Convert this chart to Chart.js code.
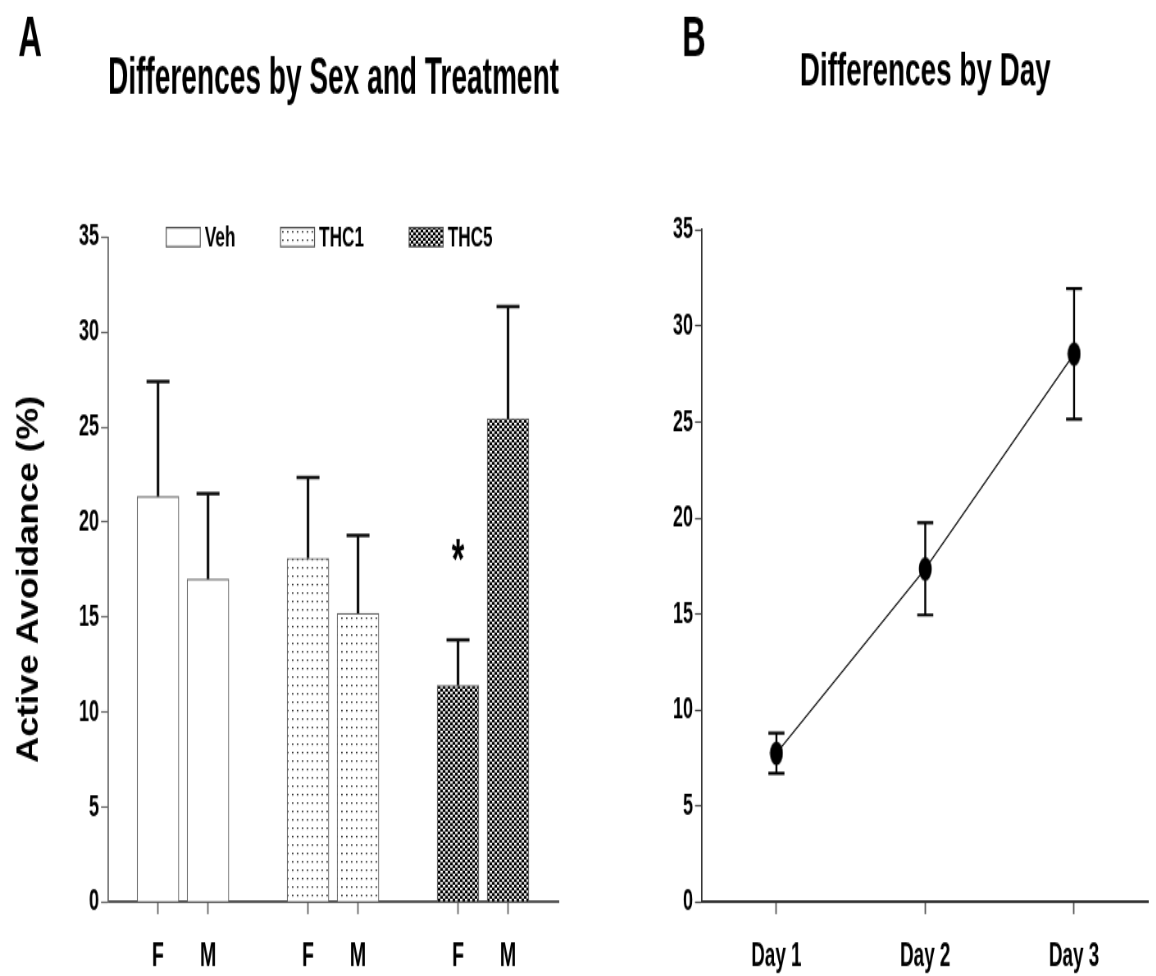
<!DOCTYPE html>
<html>
<head>
<meta charset="utf-8">
<script src="https://cdn.jsdelivr.net/npm/chart.js@4.4.1/dist/chart.umd.min.js"></script>
<style>
  html, body { margin: 0; padding: 0; background: #fff; overflow: hidden; }
  #wrap { position: relative; width: 1156px; height: 976px; }
  /* la figura original esta estirada en vertical y comprimida en horizontal */
  .panel { position: absolute; top: 0; width: 705px; height: 697px; transform: scale(0.82, 1.4); transform-origin: 0 0; }
  #panelA { left: 0; }
  #panelB { left: 578px; }
</style>
</head>
<body>
<div id="wrap">
  <div class="panel" id="panelA"><canvas id="barChart"></canvas></div>
  <div class="panel" id="panelB"><canvas id="lineChart"></canvas></div>
</div>
<script>
// datos panel A
const treatments = ['Veh', 'THC1', 'THC5'];
const sexLabels = ['F', 'M'];
const vehMeans = [21.35, 17.0];
const vehSem = [6.05, 4.5];
const thc1Means = [18.1, 15.2];
const thc1Sem = [4.25, 4.1];
const thc5Means = [11.4, 25.45];
const thc5Sem = [2.4, 5.9];
const starMarks = [['', ''], ['', ''], ['*', '']];

// datos panel B
const days = ['Day 1', 'Day 2', 'Day 3'];
const dayMeans = [7.75, 17.35, 28.55];
const daySem = [1.05, 2.4, 3.4];

const groupMeans = [vehMeans, thc1Means, thc5Means];
const groupSem = [vehSem, thc1Sem, thc5Sem];

const SANS = "'Liberation Sans', Arial, sans-serif";

Chart.defaults.color = '#000';
Chart.defaults.animation = false;

// patrones de relleno
const barCtx = document.getElementById('barChart').getContext('2d');

function dotPattern() {
    const c = document.createElement('canvas');
    c.width = 6; c.height = 6;
    const g = c.getContext('2d');
    g.fillStyle = '#fff';
    g.fillRect(0, 0, 6, 6);
    g.fillStyle = '#333';
    g.fillRect(2, 3, 1.8, 1.2);
    return barCtx.createPattern(c, 'repeat');
}

function checkPattern() {
    const c = document.createElement('canvas');
    c.width = 6; c.height = 4;
    const g = c.getContext('2d');
    g.fillStyle = '#000';
    g.fillRect(0, 0, 6, 4);
    g.fillStyle = '#fff';
    g.fillRect(0, 0, 3, 1.7);
    g.fillRect(3, 2, 3, 1.7);
    return barCtx.createPattern(c, 'repeat');
}

const fills = ['#ffffff', dotPattern(), checkPattern()];

// posiciones de las barras: F y M de cada tratamiento, con un hueco entre grupos
const tickPositions = [];
treatments.forEach((t, g) => sexLabels.forEach((s, i) => tickPositions.push(g * 3 + i + 1)));

const barErrors = {
    id: 'barErrors',
    afterDatasetsDraw(chart) {
        const ctx = chart.ctx;
        const y = chart.scales.y;
        ctx.save();
        ctx.strokeStyle = '#111';
        chart.data.datasets.forEach((ds, g) => {
            chart.getDatasetMeta(g).data.forEach((bar, s) => {
                const top = y.getPixelForValue(groupMeans[g][s] + groupSem[g][s]);
                ctx.lineWidth = 3.2;
                ctx.beginPath();
                ctx.moveTo(bar.x, bar.y);
                ctx.lineTo(bar.x, top);
                ctx.stroke();
                ctx.lineWidth = 2.5;
                ctx.beginPath();
                ctx.moveTo(bar.x - 14, top);
                ctx.lineTo(bar.x + 14, top);
                ctx.stroke();
                const mark = starMarks[g][s];
                if (mark) {
                    ctx.fillStyle = '#000';
                    ctx.font = `bold 40px ${SANS}`;
                    ctx.textAlign = 'center';
                    ctx.textBaseline = 'middle';
                    ctx.fillText(mark, bar.x, top - 55);
                }
            });
        });
        ctx.restore();
    }
};

const legendA = {
    id: 'legendA',
    afterDraw(chart) {
        const ctx = chart.ctx;
        const area = chart.chartArea;
        let x = area.left + 71;
        const yc = area.top;
        ctx.save();
        ctx.font = `bold 21px ${SANS}`;
        ctx.textBaseline = 'middle';
        ctx.textAlign = 'left';
        treatments.forEach((name, g) => {
            ctx.fillStyle = fills[g];
            ctx.fillRect(x, yc - 6.8, 41.5, 13.6);
            ctx.strokeStyle = '#555';
            ctx.lineWidth = 1.2;
            ctx.strokeRect(x, yc - 6.8, 41.5, 13.6);
            ctx.fillStyle = '#000';
            ctx.fillText(name, x + 47, yc + 1);
            x += 47 + ctx.measureText(name).width + 55;
        });
        ctx.restore();
    }
};

// titulo del eje Y dibujado a mano para darle el grosor del original
const yTitle = {
    id: 'yTitle',
    afterDraw(chart) {
        const ctx = chart.ctx;
        const area = chart.chartArea;
        ctx.save();
        ctx.translate(35.4, (area.top + area.bottom) / 2 + 7);
        ctx.rotate(-Math.PI / 2);
        ctx.scale(0.7, 1);
        ctx.font = `bold 37px ${SANS}`;
        ctx.fillStyle = '#000';
        ctx.textAlign = 'center';
        ctx.textBaseline = 'middle';
        ctx.fillText('Active Avoidance (%)', 0, 0);
        ctx.restore();
    }
};

function panelLetter(letter, x) {
    return {
        id: 'letter' + letter,
        afterDraw(chart) {
            const ctx = chart.ctx;
            ctx.save();
            ctx.font = `bold 40px ${SANS}`;
            ctx.fillStyle = '#000';
            ctx.textAlign = 'center';
            ctx.textBaseline = 'middle';
            ctx.fillText(letter, x, 29);
            ctx.restore();
        }
    };
}

// Gráfico A: barras
new Chart(barCtx, {
    type: 'bar',
    data: {
        datasets: treatments.map((name, g) => ({
            label: name,
            data: groupMeans[g].map((v, s) => ({ x: tickPositions[g * 2 + s], y: v })),
            backgroundColor: fills[g],
            borderColor: '#666',
            borderWidth: 1.2
        }))
    },
    options: {
        responsive: true,
        maintainAspectRatio: false,
        barThickness: 51,
        grouped: false,
        layout: { padding: { left: 0, right: 23.3, top: 0, bottom: 0 } },
        plugins: {
            legend: { display: false },
            tooltip: { enabled: false },
            title: {
                display: true,
                fullSize: false,
                text: 'Differences by Sex and Treatment',
                font: { family: SANS, weight: 'bold', size: 37 },
                padding: { top: 34.5, bottom: 90.5 }
            }
        },
        scales: {
            x: {
                type: 'linear',
                min: 0,
                max: 9.02,
                offset: false,
                afterBuildTicks: scale => { scale.ticks = tickPositions.map(v => ({ value: v })); },
                afterFit: scale => { scale.height = 52.7; },
                ticks: {
                    callback: (value, index) => sexLabels[index % sexLabels.length],
                    font: { family: SANS, weight: 'bold', size: 24 },
                    padding: 16,
                    maxRotation: 0,
                    autoSkip: false
                },
                grid: { offset: false, drawOnChartArea: false, tickLength: 8.6, color: '#666', tickWidth: 1.8 },
                border: { color: '#555', width: 2 }
            },
            y: {
                min: 0,
                max: 35,
                afterFit: scale => { scale.width = 131.7; },
                ticks: { stepSize: 5, font: { family: SANS, weight: 'bold', size: 22 }, padding: 2.4 },
                grid: { drawOnChartArea: false, tickLength: 8.5, color: '#666', tickWidth: 1.2 },
                border: { color: '#666', width: 1.8 }
            }
        }
    },
    plugins: [barErrors, legendA, yTitle, panelLetter('A', 36.6)]
});

// Gráfico B: líneas con error
function ellipseMarker() {
    const c = document.createElement('canvas');
    c.width = 17; c.height = 18;
    const g = c.getContext('2d');
    g.fillStyle = '#000';
    g.beginPath();
    g.ellipse(8.5, 9, 7.9, 8.6, 0, 0, Math.PI * 2);
    g.fill();
    return c;
}

const dayErrors = {
    id: 'dayErrors',
    afterDatasetsDraw(chart) {
        const ctx = chart.ctx;
        const y = chart.scales.y;
        ctx.save();
        ctx.strokeStyle = '#000';
        chart.getDatasetMeta(0).data.forEach((pt, i) => {
            const top = y.getPixelForValue(dayMeans[i] + daySem[i]);
            const bottom = y.getPixelForValue(dayMeans[i] - daySem[i]);
            ctx.lineWidth = 2.4;
            ctx.beginPath();
            ctx.moveTo(pt.x, top);
            ctx.lineTo(pt.x, bottom);
            ctx.stroke();
            ctx.lineWidth = 2.2;
            ctx.beginPath();
            ctx.moveTo(pt.x - 9.8, top);
            ctx.lineTo(pt.x + 9.8, top);
            ctx.moveTo(pt.x - 9.8, bottom);
            ctx.lineTo(pt.x + 9.8, bottom);
            ctx.stroke();
        });
        ctx.restore();
    }
};

const lineCtx = document.getElementById('lineChart').getContext('2d');
new Chart(lineCtx, {
    type: 'line',
    data: {
        labels: days,
        datasets: [{
            data: dayMeans,
            borderColor: '#111',
            borderWidth: 1.3,
            pointStyle: ellipseMarker(),
            pointRadius: 8,
            tension: 0
        }]
    },
    options: {
        responsive: true,
        maintainAspectRatio: false,
        layout: { padding: { left: 0, right: 0, top: 0, bottom: 0 } },
        plugins: {
            legend: { display: false },
            tooltip: { enabled: false },
            title: {
                display: true,
                fullSize: false,
                text: 'Differences by Day',
                font: { family: SANS, weight: 'bold', size: 34 },
                padding: { top: 31, bottom: 92.5 }
            }
        },
        scales: {
            x: {
                offset: true,
                afterFit: scale => { scale.height = 52.7; },
                ticks: { font: { family: SANS, weight: 'bold', size: 23 }, padding: 17, maxRotation: 0 },
                grid: { drawOnChartArea: false, tickLength: 8.6, color: '#555', tickWidth: 1.8 },
                border: { color: '#333', width: 2 }
            },
            y: {
                min: 0,
                max: 35,
                afterFit: scale => { scale.width = 151.2; },
                ticks: { stepSize: 5, font: { family: SANS, weight: 'bold', size: 22 }, padding: 2.4 },
                grid: { drawOnChartArea: false, tickLength: 8.5, color: '#444', tickWidth: 1.2 },
                border: { color: '#333', width: 1.8 }
            }
        }
    },
    plugins: [dayErrors, panelLetter('B', 141.5)]
});
</script>
</body>
</html>
